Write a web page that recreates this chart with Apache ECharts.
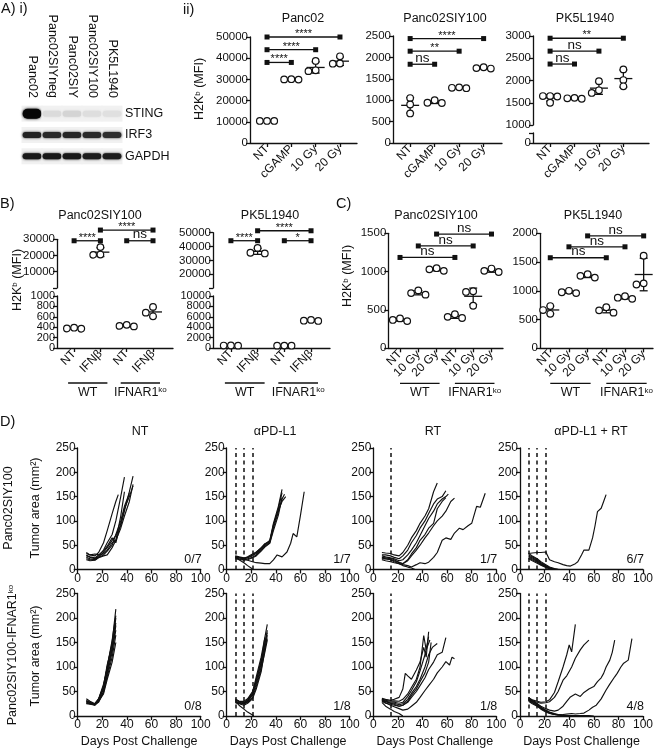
<!DOCTYPE html>
<html><head><meta charset="utf-8">
<script src="https://cdn.jsdelivr.net/npm/echarts@6/dist/echarts.min.js"></script>
<style>html,body{margin:0;padding:0;background:#fff}#c{width:657px;height:749px}</style>
</head><body><div id="c"></div><script>
const FONT = '"Liberation Sans", Arial, Helvetica, sans-serif';
const INK = '#111';

// ---------- A i) western blot (relative band intensity 0..1) ----------
const blotLanes = ['Panc02','Panc02SIYneg','Panc02SIY','Panc02SIY100','PK5L1940'];
const blotProteins = ['STING','IRF3','GAPDH'];
const stingBand = [1.0, 0.08, 0.11, 0.07, 0.06];
const irf3Band  = [0.88, 0.85, 0.86, 0.85, 0.83];
const gapdhBand = [0.92, 0.92, 0.92, 0.90, 0.90];

// ---------- A ii) H2Kb MFI ----------
const aiiCats = ['NT','cGAMP','10 Gy','20 Gy'];
const aiiPanc02 = [[10400,10400,10400],[30100,30000,29900],[38700,33900,34300],[40900,37400,37500]];
const aiiPanc02Sig = [[0,3,50000,'****'],[0,2,44000,'****'],[0,1,38000,'****']];
const aiiSIY100 = [[1050,900,690],[1000,940,935],[1300,1280,1290],[1770,1740,1750]];
const aiiSIY100Sig = [[0,3,2440,'****'],[0,2,2145,'**'],[0,1,1840,'ns']];
const aiiPK5 = [[1650,1650,1640,1500],[1610,1590,1600],[1985,1780,1720],[2250,2010,1870]];
const aiiPK5Sig = [[0,3,2950,'**'],[0,2,2660,'ns'],[0,1,2370,'ns']];

// ---------- B) IFNb ----------
const bCats = ['NT','IFNβ','NT','IFNβ'];
const bSIY100 = [[390,370,375],[25200,20600,20400],[445,415,425],[790,680,610]];
const bSIY100Sig = [[0,1,29100,'****'],[1,3,35700,'****'],[2,3,29100,'ns']];
const bPK5 = [[480,450,470],[39000,35500,35000],[460,440,450],[5400,5200,5250]];
const bPK5Sig = [[0,1,44200,'****'],[1,3,51400,'****'],[2,3,44200,'*']];

// ---------- C) RT ----------
const cCats = ['NT','10 Gy','20 Gy','NT','10 Gy','20 Gy'];
const cSIY100 = [[390,370,355],[755,720,700],[1045,1030,1010],[445,410,395],[745,735,555],[1040,1010,995]];
const cSIY100Sig = [[0,3,1185,'ns'],[1,4,1335,'ns'],[2,5,1490,'ns']];
const cPK5 = [[735,665,600],[1000,975,960],[1290,1260,1230],[715,660,620],[905,880,860],[1610,1130,1110]];
const cPK5Sig = [[0,3,1575,'ns'],[1,4,1765,'ns'],[2,5,1955,'ns']];
const groupsB = [['WT',0,1],['IFNAR1{s|ko}',2,3]];
const groupsC = [['WT',0,2],['IFNAR1{s|ko}',3,5]];

// ---------- D) tumor growth: [day, area mm2] ----------
const ntWT = [
 [[7,33],[10,30],[14,28],[17,35],[21,55],[24,80],[28,115],[31,140],[33,154]],
 [[7,30],[10,25],[14,22],[17,28],[21,40],[24,55],[28,72],[31,100],[35,150],[38,190]],
 [[7,25],[10,22],[14,20],[17,26],[21,35],[24,45],[28,60],[31,70],[35,90],[38,120],[42,160],[45,192]],
 [[7,28],[10,26],[14,24],[17,30],[21,38],[24,48],[28,65],[31,55],[35,95],[38,125],[42,150],[45,172]],
 [[7,22],[10,20],[14,20],[17,25],[21,30],[24,38],[28,50],[31,72],[35,100],[38,130],[42,157]],
 [[7,20],[10,18],[14,19],[17,24],[21,28],[24,30],[28,45],[31,60],[35,110],[38,160]],
 [[7,35],[10,30],[14,32],[17,30],[21,32],[24,40],[28,55],[31,60],[35,85],[38,110],[42,140],[45,175]]
];
const pdl1WT = [
 [[7,28],[10,26],[14,24],[17,25],[21,30],[24,35],[28,45],[31,52],[35,60],[38,95],[42,130],[45,165]],
 [[7,25],[10,24],[14,22],[17,24],[21,28],[24,33],[28,42],[31,50],[35,58],[38,90],[42,125],[45,158]],
 [[7,24],[10,22],[14,20],[17,22],[21,25],[24,30],[28,40],[31,48],[35,55],[38,85],[42,118],[45,145],[47,155]],
 [[7,26],[10,25],[14,23],[17,26],[21,32],[24,36],[28,44],[31,53],[35,57],[38,92],[42,122],[45,140],[48,150]],
 [[7,22],[10,21],[14,19],[17,20],[21,24],[24,28],[28,38],[31,46],[35,54],[38,80],[42,112],[45,148]],
 [[7,27],[10,25],[14,22],[17,19],[21,16],[24,14],[28,13],[31,12],[35,12],[38,20],[41,30],[45,26],[49,36],[52,54],[54,74],[57,67],[60,112],[63,160]],
 [[7,25],[10,20],[14,14],[17,8],[21,1]]
];
const rtWT = [
 [[7,35],[10,34],[14,33],[17,30],[21,28],[24,35],[28,50],[31,65],[35,80],[38,95],[42,110],[45,125],[49,160],[52,178]],
 [[7,30],[10,30],[14,28],[17,25],[21,22],[24,28],[28,40],[31,55],[35,70],[38,85],[42,100],[45,115],[49,135],[52,145],[56,150],[59,162]],
 [[7,28],[10,26],[14,24],[17,22],[21,18],[24,20],[28,30],[31,40],[35,55],[38,70],[42,90],[45,105],[49,120],[52,135],[56,145],[59,150],[61,155]],
 [[7,25],[10,24],[14,22],[17,20],[21,15],[24,12],[28,18],[31,28],[35,40],[38,50],[42,65],[45,75],[49,90],[52,100],[56,110],[59,120],[63,140],[66,147]],
 [[7,22],[10,22],[14,20],[17,18],[21,14],[24,12],[28,20],[31,32],[35,45],[38,60],[42,72],[45,85],[49,95],[52,125],[56,140],[59,148]],
 [[7,20],[10,18],[14,16],[17,14],[21,12],[24,10],[28,8],[31,5],[35,10],[38,14],[42,12],[45,15],[49,25],[52,35],[56,60],[59,65],[63,62],[66,75],[70,85],[73,82],[77,90],[80,95],[84,130],[87,128],[91,157]],
 [[7,24],[10,22],[14,20],[17,16],[21,12],[24,8],[28,5],[31,3],[34,0]]
];
const comboWT = [
 [[7,33],[10,34],[14,35],[17,35],[21,36],[24,20],[28,16],[31,14],[35,10],[38,8],[41,7],[45,12],[47,16],[50,30],[52,40],[56,40],[59,65],[61,90],[63,119],[66,126],[68,140],[70,154]],
 [[7,33],[10,28],[14,22],[17,16],[21,10],[24,5],[28,2],[31,0]],
 [[7,30],[10,26],[14,20],[17,14],[21,8],[24,4],[28,1],[31,0]],
 [[7,28],[10,24],[14,18],[17,12],[21,7],[24,3],[28,0]],
 [[7,26],[10,22],[14,17],[17,12],[21,6],[24,2],[28,0]],
 [[7,24],[10,20],[14,15],[17,10],[21,5],[24,2],[28,1],[33,0]],
 [[7,22],[10,18],[14,13],[17,9],[21,4],[24,1],[28,0]]
];
const ntKO = [
 [[7,35],[10,30],[14,25],[17,35],[21,60],[24,100],[28,150],[31,218]],
 [[7,30],[10,28],[14,24],[17,32],[21,55],[24,90],[28,140],[31,200]],
 [[7,28],[10,26],[14,22],[17,30],[21,50],[24,85],[28,130],[31,185]],
 [[7,26],[10,25],[14,26],[17,35],[21,65],[24,95],[28,135],[31,175]],
 [[7,32],[10,28],[14,24],[17,28],[21,48],[24,80],[28,120],[31,165]],
 [[7,25],[10,24],[14,22],[17,30],[21,45],[24,75],[28,110],[31,150]],
 [[7,30],[10,27],[14,25],[17,33],[21,58],[24,100],[28,155],[31,205]],
 [[7,27],[10,25],[14,23],[17,34],[21,62],[24,105],[28,145],[31,190]]
];
const pdl1KO = [
 [[7,32],[10,30],[14,28],[17,32],[21,45],[24,70],[28,110],[31,160],[33,187]],
 [[7,30],[10,28],[14,26],[17,30],[21,42],[24,65],[28,100],[31,140],[33,158]],
 [[7,28],[10,27],[14,25],[17,28],[21,38],[24,60],[28,95],[31,130],[33,155]],
 [[7,35],[10,30],[14,30],[17,35],[21,50],[24,75],[28,105],[31,150],[33,170]],
 [[7,27],[10,25],[14,22],[17,26],[21,35],[24,55],[28,90],[31,135],[33,165]],
 [[7,29],[10,26],[14,24],[17,30],[21,45],[24,80],[28,120],[31,160]],
 [[7,33],[10,30],[14,27],[17,33],[21,48],[24,72],[28,115],[31,145],[33,175]],
 [[7,30],[10,22],[14,14],[17,8],[21,2],[22,0]]
];
const rtKO = [
 [[7,36],[10,34],[14,32],[17,34],[21,38],[24,55],[26,87],[28,82],[31,75],[35,94],[38,110],[41,140],[43,120],[45,172]],
 [[7,35],[10,32],[14,30],[17,31],[21,30],[24,34],[28,45],[31,58],[35,75],[38,100],[41,164],[43,135],[46,155]],
 [[7,33],[10,30],[14,28],[17,28],[21,26],[24,28],[28,40],[31,52],[35,70],[38,92],[42,125],[45,162]],
 [[7,31],[10,29],[14,26],[17,26],[21,23],[24,25],[28,34],[31,46],[35,60],[38,75],[42,100],[45,125],[48,140],[52,148]],
 [[7,34],[10,30],[14,26],[17,24],[21,20],[24,22],[28,28],[31,38],[35,50],[38,62],[42,78],[45,95],[49,110],[52,125],[56,130],[59,160]],
 [[7,32],[10,27],[14,22],[17,19],[21,15],[24,12],[28,14],[31,20],[35,28],[38,38],[42,52],[45,62],[49,75],[52,88],[56,100],[59,111],[62,104],[64,120],[66,117]],
 [[7,30],[10,26],[14,24],[17,22],[21,20],[24,22],[28,30],[31,42],[35,55],[38,70],[42,88],[45,110],[47,150]],
 [[7,28],[10,20],[14,14],[17,9],[21,5],[24,0]]
];
const comboKO = [
 [[7,36],[10,33],[14,30],[17,28],[21,29],[24,33],[28,48],[31,70],[35,100],[38,125],[40,145],[42,131],[45,187]],
 [[7,34],[10,31],[14,28],[17,26],[21,27],[24,29],[28,38],[31,50],[35,73],[38,82],[42,100],[45,118],[49,135],[52,145],[56,155]],
 [[7,35],[10,30],[14,25],[17,20],[21,15],[24,12],[28,10],[31,12],[35,20],[38,30],[41,39],[45,45],[49,40],[52,48],[56,55],[60,60],[63,70],[66,78],[68,87],[70,100],[73,114],[75,130],[77,155]],
 [[7,33],[10,28],[14,22],[17,15],[21,10],[24,6],[28,3],[31,2],[35,3],[38,4],[42,5],[45,4],[49,5],[52,6],[56,12],[59,18],[62,22],[66,35],[70,53],[73,65],[77,80],[79,87],[82,100],[84,107],[88,114],[91,158]],
 [[7,38],[10,32],[14,25],[17,18],[21,12],[24,8],[28,5],[31,3],[35,1],[38,0]],
 [[7,35],[10,30],[14,24],[17,17],[21,11],[24,7],[28,4],[31,2],[35,1],[42,0]],
 [[7,32],[10,27],[14,21],[17,16],[21,10],[24,6],[28,3],[31,2],[35,1],[45,1],[52,0]],
 [[7,30],[10,25],[14,20],[17,14],[21,8],[24,5],[28,3],[35,2],[42,1],[49,1],[56,1],[60,0]]
];
const dColTitles = ['NT','αPD-L1','RT','αPD-L1 + RT'];
const dTreatDays = [[],[7,14,21],[14],[7,14,21]];
const dFractions = [['0/7','1/7','1/7','6/7'],['0/8','1/8','1/8','4/8']];
const dRows = [[ntWT,pdl1WT,rtWT,comboWT],[ntKO,pdl1KO,rtKO,comboKO]];

// ================= build option =================
const grids=[], xAxis=[], yAxis=[], yExtra=[], series=[], graphic=[];
const axLine = {show:true, onZero:false, lineStyle:{color:INK, width:1.3}};
const axTick = {show:true, length:4, lineStyle:{color:INK, width:1.3}};
const lab = e => Object.assign({color:INK, fontFamily:FONT, fontSize:11.5, margin:2, showMinLabel:true, showMaxLabel:true, hideOverlap:false}, e||{});
const mean = a => a.reduce((s,v)=>s+v,0)/a.length;
const sd = a => { const m=mean(a); return Math.sqrt(a.reduce((s,v)=>s+(v-m)*(v-m),0)/(a.length-1)); };

function addGrid(l,t,w,h){ grids.push({left:l, top:t, width:w, height:h}); return grids.length-1; }
function catX(gi, cats, min, max, show){
  const idx = cats.map((_,i)=>i);
  xAxis.push({gridIndex:gi, type:'value', min, max, show, splitLine:{show:false}, axisLine:axLine,
    axisTick:Object.assign({}, axTick, {customValues:idx}),
    axisLabel:lab({rotate:45, margin:4, fontSize:12, customValues:idx, formatter:v=>cats[Math.round(v)]||''})});
}
function yDef(gi, min, max, interval, vals, hide, fs, lineShow){
  return {gridIndex:gi, type:'value', position:'left', offset:0, min, max, interval, splitLine:{show:false},
    axisLine:Object.assign({}, axLine, {show:lineShow}),
    axisTick:Object.assign({}, axTick, {customValues:vals}),
    axisLabel:lab({fontSize:fs||11.5, customValues:vals, formatter:v=>(hide&&hide.indexOf(v)>=0)?'':String(v)})};
}
// split=true: tightly packed labels are shared over two coincident axes so none is auto-hidden
function valY(gi, min, max, interval, hide, fs, split){
  const ticks = []; for (let v = min; v <= max + 1e-9; v += interval) ticks.push(v);
  if (!split) { yAxis.push(yDef(gi, min, max, interval, ticks, hide, fs, true)); return; }
  yAxis.push(yDef(gi, min, max, interval, ticks.filter((_,i)=>i%2===0), hide, fs, true));
  yExtra.push(yDef(gi, min, max, interval, ticks.filter((_,i)=>i%2===1), hide, fs, false));
}
function dotSeries(gi, groups){
  series.push({type:'custom', xAxisIndex:gi, yAxisIndex:gi, clip:false, z:5, silent:true,
    data: groups.map(g=>[g.x, mean(g.vals)]),
    renderItem:(p, api)=>{
      const g = groups[p.dataIndex]; const m = mean(g.vals), s = sd(g.vals);
      const c = api.coord([g.x, m]), hi = api.coord([g.x, m+s]), lo = api.coord([g.x, m-s]);
      const st = {stroke:INK, lineWidth:1.3};
      const ch = [
        {type:'line', shape:{x1:c[0]-9, y1:c[1], x2:c[0]+9, y2:c[1]}, style:st},
        {type:'line', shape:{x1:c[0], y1:hi[1], x2:c[0], y2:lo[1]}, style:st},
        {type:'line', shape:{x1:c[0]-4, y1:hi[1], x2:c[0]+4, y2:hi[1]}, style:st},
        {type:'line', shape:{x1:c[0]-4, y1:lo[1], x2:c[0]+4, y2:lo[1]}, style:st}];
      const pts = g.vals.map(v=>api.coord([g.x, v])).sort((a,b)=>a[1]-b[1]);
      const placed = []; const D = 7.2;
      pts.forEach(pt=>{
        for (const o of [0,-D,D,-2*D,2*D]) {
          const x = pt[0]+o;
          if (placed.every(q=>Math.hypot(q[0]-x, q[1]-pt[1]) >= 6.2)) { placed.push([x, pt[1]]); break; }
        }
      });
      placed.forEach(q=>ch.push({type:'circle', shape:{cx:q[0], cy:q[1], r:3.3}, style:{fill:'#fff', stroke:INK, lineWidth:1.2}}));
      return {type:'group', children:ch};
    }});
}
function sigSeries(gi, sigs){
  series.push({type:'custom', xAxisIndex:gi, yAxisIndex:gi, clip:false, z:6, silent:true,
    data: sigs.map(s=>[s[0], s[2]]),
    renderItem:(p, api)=>{
      const s = sigs[p.dataIndex];
      const a = api.coord([s[0], s[2]]), b = api.coord([s[1], s[2]]);
      const isNs = /[a-z]/.test(s[3]);
      return {type:'group', children:[
        {type:'line', shape:{x1:a[0], y1:a[1], x2:b[0], y2:b[1]}, style:{stroke:INK, lineWidth:1.3}},
        {type:'rect', shape:{x:a[0]-2.5, y:a[1]-2.5, width:5, height:5}, style:{fill:INK}},
        {type:'rect', shape:{x:b[0]-2.5, y:b[1]-2.5, width:5, height:5}, style:{fill:INK}},
        {type:'text', x:(a[0]+b[0])/2, y:a[1]+(isNs?1:2.5), style:{text:s[3], fill:INK, fontFamily:FONT,
          fontSize:isNs?13.5:11, align:'center', verticalAlign:'bottom', textAlign:'center', textVerticalAlign:'bottom'}}
      ]};
    }});
}
function splitGroups(vals, thr){ // which groups go to which (broken-axis) segment
  const lo=[], hi=[];
  vals.forEach((v,i)=>{ (mean(v) > thr ? hi : lo).push({x:i, vals:v}); });
  return {lo, hi};
}
const txt = (x,y,text,size,extra)=>Object.assign({type:'text', x, y, silent:true,
  style:{text, fill:INK, fontFamily:FONT, fontSize:size, align:'center', verticalAlign:'middle', textAlign:'center', textVerticalAlign:'middle',
    rich:{s:{fontSize:Math.round(size*0.62), fontFamily:FONT, fill:INK, verticalAlign:'top', padding:[0,0,Math.round(size*0.35),0]}}}}, extra||{});
const ltxt = (x,y,text,size,align)=>({type:'text', x, y, silent:true,
  style:{text, fill:INK, fontFamily:FONT, fontSize:size, align:align||'left', textAlign:align||'left', verticalAlign:'middle', textVerticalAlign:'middle'}});

// ---- A i) blot ----
const gBlot = addGrid(22, 103, 100, 64);
xAxis.push({gridIndex:gBlot, type:'category', data:blotLanes, position:'top', axisLine:{show:false}, axisTick:{show:false},
  axisLabel:lab({rotate:90, margin:5, interval:0, fontSize:12.5})});
yAxis.push({gridIndex:gBlot, type:'category', data:blotProteins, inverse:true, position:'right', axisLine:{show:false}, axisTick:{show:false},
  axisLabel:lab({margin:3, fontSize:12.5})});
const blotData = [];
[stingBand, irf3Band, gapdhBand].forEach((row,r)=>row.forEach((v,l)=>blotData.push([l,r,v])));
series.push({type:'custom', xAxisIndex:gBlot, yAxisIndex:gBlot, silent:true, data:blotData,
  renderItem:(p, api)=>{
    const c = api.coord([api.value(0), api.value(1)]); const sz = api.size([1,1]); const v = api.value(2);
    const g = Math.round(238 - v*232); const col = 'rgb('+g+','+g+','+g+')';
    const big = api.value(1)===0 && v > 0.5;
    return {type:'group', children:[
      {type:'rect', shape:{x:c[0]-sz[0]/2-0.5, y:c[1]-8, width:sz[0]+1, height:16}, style:{fill:'#f1f1f1'}},
      {type:'rect', shape:{x:c[0]-sz[0]*0.47, y:c[1]-(big?5:3), width:sz[0]*0.94, height:big?10:6, r:big?5:3}, style:{fill:col, shadowBlur:2.5, shadowColor:col}}
    ]};
  }});

// ---- A ii) ----
const gA1 = addGrid(250, 37, 107, 106);
catX(gA1, aiiCats, -0.7, 3.7, true); valY(gA1, 0, 50000, 10000);
dotSeries(gA1, aiiPanc02.map((v,i)=>({x:i, vals:v}))); sigSeries(gA1, aiiPanc02Sig);
const gA2 = addGrid(393, 36, 109, 107);
catX(gA2, aiiCats, -0.7, 3.75, true); valY(gA2, 0, 2500, 500);
dotSeries(gA2, aiiSIY100.map((v,i)=>({x:i, vals:v}))); sigSeries(gA2, aiiSIY100Sig);
const gA3u = addGrid(533, 36, 116, 89);
catX(gA3u, aiiCats, -0.7, 4.05, false); valY(gA3u, 1000, 3000, 500);
const gA3l = addGrid(533, 133, 116, 10);
catX(gA3l, aiiCats, -0.7, 4.05, true); valY(gA3l, 0, 500, 500, [500]);
dotSeries(gA3u, aiiPK5.map((v,i)=>({x:i, vals:v}))); sigSeries(gA3u, aiiPK5Sig);

// ---- B) ----
const gB1u = addGrid(57, 239.3, 116, 48.6);
catX(gB1u, bCats, -0.65, 3.76, false); valY(gB1u, 0, 30000, 10000, [0]);
const gB1l = addGrid(57, 296, 116, 52);
catX(gB1l, bCats, -0.65, 3.76, true); valY(gB1l, 0, 1000, 200, null, 11, true);
let sp = splitGroups(bSIY100, 1000);
dotSeries(gB1u, sp.hi); dotSeries(gB1l, sp.lo); sigSeries(gB1u, bSIY100Sig);
const gB2u = addGrid(213, 232.7, 117, 55.3);
catX(gB2u, bCats, -0.67, 3.71, false); valY(gB2u, 10000, 50000, 10000, [10000]);
const gB2l = addGrid(213, 296, 117, 52);
catX(gB2l, bCats, -0.67, 3.71, true); valY(gB2l, 0, 10000, 2000, null, 11, true);
sp = splitGroups(bPK5, 10000);
dotSeries(gB2u, sp.hi); dotSeries(gB2l, sp.lo); sigSeries(gB2u, bPK5Sig);

// ---- C) ----
const gC1 = addGrid(388.3, 233.3, 114.7, 115);
catX(gC1, cCats, -0.64, 5.63, true); valY(gC1, 0, 1500, 500);
dotSeries(gC1, cSIY100.map((v,i)=>({x:i, vals:v}))); sigSeries(gC1, cSIY100Sig);
const gC2 = addGrid(540, 233.3, 113, 115);
catX(gC2, cCats, -0.55, 5.5, true); valY(gC2, 0, 2000, 500);
dotSeries(gC2, cPK5.map((v,i)=>({x:i, vals:v}))); sigSeries(gC2, cPK5Sig);

// ---- D) ----
const dLefts = [77.7, 226.7, 373.3, 520], dTops = [448, 593.5], dHeights = [121.5, 122.5], dW = 123;
dRows.forEach((row, r)=>row.forEach((mice, c)=>{
  const gi = addGrid(dLefts[c], dTops[r], dW, dHeights[r]);
  xAxis.push({gridIndex:gi, type:'value', min:0, max:100, interval:20, splitLine:{show:false}, axisLine:axLine, axisTick:axTick,
    axisLabel:lab({margin:3, fontSize:12}), name: r===1?'Days Post Challenge':'', nameLocation:'middle', nameGap:19,
    nameTextStyle:{fontFamily:FONT, fontSize:12.5, color:INK}});
  valY(gi, 0, 250, 50, null, 12);
  mice.forEach((m,k)=>{
    const s = {type:'line', xAxisIndex:gi, yAxisIndex:gi, data:m, symbol:'none', silent:true, z:3,
      lineStyle:{color:INK, width:1.15}};
    if (k===0 && dTreatDays[c].length) s.markLine = {silent:true, symbol:'none', label:{show:false},
      lineStyle:{type:[4,3.5], color:INK, width:1.5}, data:dTreatDays[c].map(d=>({xAxis:d}))};
    series.push(s);
  });
  graphic.push(ltxt(dLefts[c]+dW+1, dTops[r]+dHeights[r]-9.5, dFractions[r][c], 12.5, 'right'));
}));

// ---- static text ----
const rot = Math.PI/2;
graphic.push(
  ltxt(1, 9, 'A) i)', 14.5), ltxt(183, 10, 'ii)', 14.5), ltxt(0, 204, 'B)', 14.5),
  ltxt(336, 204, 'C)', 14.5), ltxt(0, 422, 'D)', 14.5),
  txt(303, 19, 'Panc02', 12.5), txt(445, 19, 'Panc02SIY100', 12.5), txt(585, 19, 'PK5L1940', 12.5),
  txt(100, 216, 'Panc02SIY100', 12.5), txt(270, 216, 'PK5L1940', 12.5),
  txt(436, 216, 'Panc02SIY100', 12.5), txt(593, 216, 'PK5L1940', 12.5),
  txt(200, 89, 'H2K{s|b} (MFI)', 12.5, {rotation:rot}),
  txt(17.5, 280, 'H2K{s|b} (MFI)', 12.5, {rotation:rot}),
  txt(348, 276, 'H2K{s|b} (MFI)', 12.5, {rotation:rot}),
  txt(9, 508, 'Panc02SIY100', 12.5, {rotation:rot}),
  txt(36, 508, 'Tumor area (mm²)', 12.5, {rotation:rot}),
  txt(13, 655, 'Panc02SIY100-IFNAR1{s|ko}', 12.5, {rotation:rot}),
  txt(36, 656, 'Tumor area (mm²)', 12.5, {rotation:rot})
);
dColTitles.forEach((t,i)=>graphic.push(txt([140,275,433,591][i], 432, t, 12.5)));

const chart = echarts.init(document.getElementById('c'), null, {renderer:'canvas', width:657, height:749});
chart.setOption({animation:false, backgroundColor:'#fff', grid:grids, xAxis, yAxis:yAxis.concat(yExtra), series});

// group underlines (WT / IFNAR1ko) placed from the axis scales
function groupMarks(gi, defs, pad){
  const gr = grids[gi]; const yLine = gr.top + gr.height + 35;
  defs.forEach(d=>{
    const a = chart.convertToPixel({xAxisIndex:gi}, d[1]) + pad[0];
    const b = chart.convertToPixel({xAxisIndex:gi}, d[2]) + pad[1];
    graphic.push({type:'line', silent:true, shape:{x1:a, y1:yLine, x2:b, y2:yLine}, style:{stroke:INK, lineWidth:1.3}});
    graphic.push(txt((a+b)/2, yLine+9.5, d[0], 12.5));
  });
}
groupMarks(gB1l, groupsB, [-6, 7]); groupMarks(gB2l, groupsB, [-6, 7]);
groupMarks(gC1, groupsC, [0, 3]); groupMarks(gC2, groupsC, [0, 3]);
chart.setOption({graphic});
</script></body></html>
